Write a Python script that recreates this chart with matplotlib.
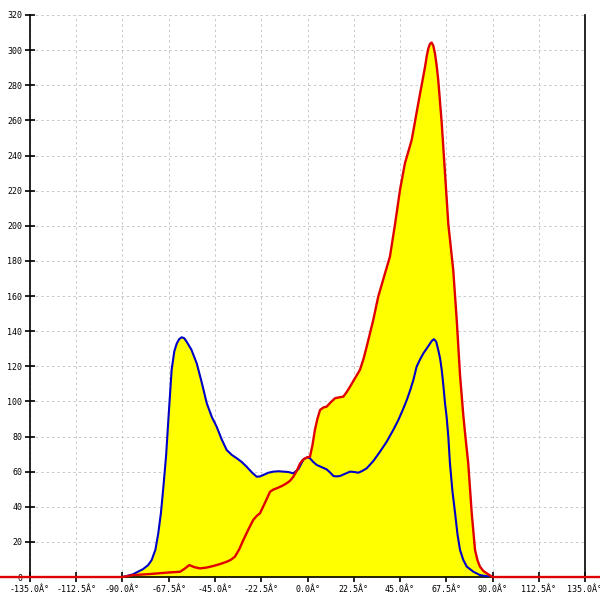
import numpy as np
import matplotlib
matplotlib.use('Agg')
import matplotlib.pyplot as plt

# blue curve (angle in degrees, value)
blue_x = [-90, -85, -80, -77.5, -75.8, -74, -72.6, -71.3, -70.1, -68.8, -67.7, -66.1, -64.8, -63.6,
          -62.4, -61.2, -60, -58.8, -56.5, -53.9, -51.5, -49, -46.5, -44.2, -41.8, -39.3, -36.8,
          -34.4, -32, -29.6, -27, -24.7, -23, -21.5, -19, -16.6, -14, -11.8, -9.3, -6.9, -4.4,
          -2, 0, 1.2, 2.8, 4.5, 7, 9.3, 11, 12.6, 14, 15.8, 18.3, 20.7, 22.7, 24.7, 26.5, 28.8,
          32, 35.3, 38.5, 41.7, 44.2, 46.3, 48.3, 50, 51.5, 53.1, 54.8, 56.4, 58.8, 60.5, 61.5,
          62.6, 63.6, 64.5, 65.3, 66.1, 66.9, 67.7, 68.5, 69.3, 70.5, 71.8, 73, 74.2, 75.8,
          77.5, 80.7, 83.9, 86.5, 90]
blue_y = [0, 1.5, 4.5, 6.8, 9.7, 15.5, 24.9, 36.5, 51.4, 69, 89.4, 117.9, 128.5, 133,
          135.5, 136.5, 136, 134, 129.5, 121.7, 111, 98.9, 91, 85.6, 78.5, 72.3, 69.5,
          67.6, 65.5, 62.8, 59.5, 57.1, 57.3, 58.1, 59.4, 60, 60.2, 60, 59.8, 59, 61.5,
          66.9, 68.2, 67.6, 65.5, 63.8, 62.5, 61.3, 59.5, 57.5, 57.3, 57.5, 58.8, 60, 59.8, 59.4, 60.3, 61.9,
          66, 71.4, 77, 83.7, 89.4, 95, 100.8, 106.5, 112.2, 119.8, 124, 127.4, 131.5, 134.5, 135.4,
          134, 129.3, 124.5, 117.9, 109, 98.9, 91, 80, 64.7, 49, 36.3, 24, 15.4, 9.7,
          5.9, 3, 1.1, 0.6, 0]

# red curve
red_x = [-180, -90, -84.8, -76.6, -68.5, -62, -59.7, -57.5, -55, -52.3, -49, -45.8, -42.5, -39.3,
         -37.3, -35.3, -33.2, -31.2, -28.8, -26.4, -24.7, -23.1, -20.6, -18.2, -16.6, -15, -12.5,
         -10.1, -8.5, -6.9, -5.2, -3.6, -2.4, -1.2, 0, 1.2, 2.4, 3.6, 4.8, 6.1, 7.7, 9.3, 11.3,
         13.4, 15.4, 17.4, 19, 20.7, 23, 25.5, 27.2, 28.8, 30.4, 32, 34.4, 37.7, 40.1, 42.6,
         45, 47.4, 50.7, 53.9, 55.6, 57.2, 58, 58.8, 59.6, 60.4, 61.2, 62, 62.8, 63.6, 65.3,
         66.9, 68.5, 70.9, 72.6, 74.2, 75.8, 77, 78.2, 79.9, 81.5, 82.7, 83.9, 85.5, 87.2, 90, 180]
red_y = [0, 0, 1.1, 1.7, 2.5, 3, 4.8, 6.8, 5.6, 4.9, 5.4, 6.3, 7.4, 8.7,
         9.8, 11.6, 15.8, 21.1, 27, 32.5, 34.8, 36.3, 42.5, 48.6, 49.8, 50.5, 51.8,
         53.4, 54.8, 57.1, 60.5, 64.7, 66.5, 67.6, 68.2, 68.5, 75, 83.7, 90, 95.1, 96.5, 97, 99.5,
         101.8, 102.3, 102.7, 105.2, 108.4, 113, 117.9, 124, 131.2, 138.8, 146.4, 159.6, 172.9, 182.4, 201,
         220.4, 235.6, 248.9, 269.8, 280.5, 290.6, 296.5, 301, 303.6, 304.3, 302.5, 298.2, 291.5, 283, 258.4,
         229.9, 201, 174.8, 146.4, 115, 92, 78, 64.7, 36.3, 15.4, 9.5, 5.9, 3.5, 2.1, 0, 0]

x_ticks = np.arange(-135, 135.1, 22.5)
x_labels = ['%.1fÂ°' % t for t in x_ticks]
y_ticks = np.arange(0, 321, 20)

fig = plt.figure(figsize=(6, 6), dpi=100)
ax = fig.add_axes([0.05, 0.0383, 0.925, 0.9367])

# yellow area under both curves
ax.fill_between(blue_x, 0, blue_y, color='#ffff00', lw=0, zorder=1)
ax.fill_between(red_x, 0, red_y, color='#ffff00', lw=0, zorder=1)
ax.plot(blue_x, blue_y, color='#0000c8', lw=1.5, zorder=3)
ax.plot(red_x, red_y, color='#e00000', lw=1.7, zorder=4, clip_on=False)

ax.set_xlim(-135, 135)
ax.set_ylim(0, 320)
ax.set_xticks(x_ticks)
ax.set_xticklabels(x_labels)
ax.set_yticks(y_ticks)

ax.grid(True, color='#c8c8c8', linestyle=(0, (2.5, 3)), linewidth=0.7)
ax.set_axisbelow(True)

for lab in ax.get_xticklabels() + ax.get_yticklabels():
    lab.set_fontfamily('DejaVu Sans Mono')
    lab.set_fontsize(6)
ax.tick_params(axis='both', direction='inout', length=7, width=1.2, color='black')
ax.tick_params(axis='x', pad=2)
ax.tick_params(axis='y', pad=2)

ax.spines['top'].set_visible(False)
for s in ['left', 'right', 'bottom']:
    ax.spines[s].set_linewidth(1.2)

fig.savefig('out.png', dpi=100)
